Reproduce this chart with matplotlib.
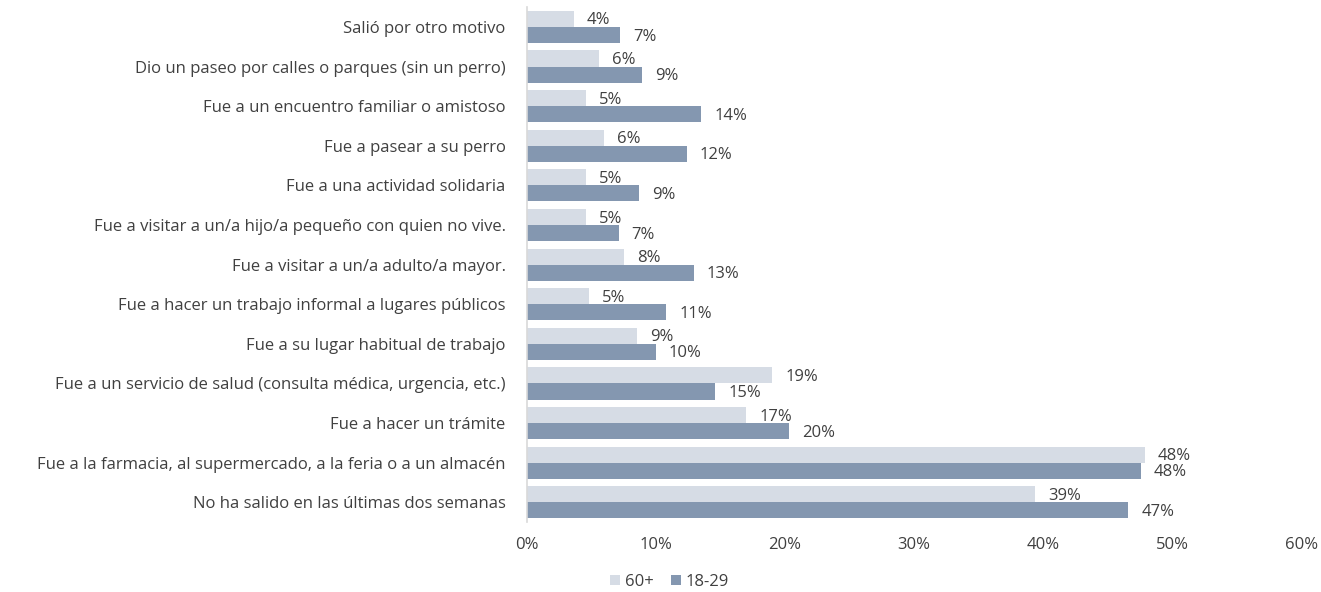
import matplotlib
matplotlib.use("Agg")
import matplotlib.pyplot as plt
import numpy as np

plt.rcParams['font.family'] = ['Open Sans', 'DejaVu Sans']

categories = [
    "Salió por otro motivo",
    "Dio un paseo por calles o parques (sin un perro)",
    "Fue a un encuentro familiar o amistoso",
    "Fue a pasear a su perro",
    "Fue a una actividad solidaria",
    "Fue a visitar a un/a hijo/a pequeño con quien no vive.",
    "Fue a visitar a un/a adulto/a mayor.",
    "Fue a hacer un trabajo informal a lugares públicos",
    "Fue a su lugar habitual de trabajo",
    "Fue a un servicio de salud (consulta médica, urgencia, etc.)",
    "Fue a hacer un trámite",
    "Fue a la farmacia, al supermercado, a la feria o a un almacén",
    "No ha salido en las últimas dos semanas",
]
series_60 = [3.6, 5.6, 4.6, 6.0, 4.6, 4.6, 7.5, 4.8, 8.5, 19.0, 17.0, 47.9, 39.4]
series_1829 = [7.2, 8.9, 13.5, 12.4, 8.7, 7.1, 12.9, 10.8, 10.0, 14.6, 20.3, 47.6, 46.6]
labels_60 = ["4%", "6%", "5%", "6%", "5%", "5%", "8%", "5%", "9%", "19%", "17%", "48%", "39%"]
labels_1829 = ["7%", "9%", "14%", "12%", "9%", "7%", "13%", "11%", "10%", "15%", "20%", "48%", "47%"]
xticks = [0, 10, 20, 30, 40, 50, 60]
xticklabels = ["0%", "10%", "20%", "30%", "40%", "50%", "60%"]

c60 = "#D6DCE5"
c1829 = "#8497B0"
txt = "#404040"
fs = 12

fig = plt.figure(figsize=(13.21, 5.92), dpi=100)
ax = fig.add_axes([0.399, 0.118, 0.586, 0.870])

y = np.arange(len(categories))
h = 0.405
b1 = ax.barh(y - h / 2, series_60, height=h, color=c60, label="60+")
b2 = ax.barh(y + h / 2, series_1829, height=h, color=c1829, label="18-29")

for yi, v, l in zip(y, series_60, labels_60):
    ax.text(v + 1.0, yi - h / 2 + 0.04, l, va="center", ha="left", fontsize=fs, color=txt)
for yi, v, l in zip(y, series_1829, labels_1829):
    ax.text(v + 1.0, yi + h / 2 + 0.04, l, va="center", ha="left", fontsize=fs, color=txt)

ax.set_ylim(len(categories) - 0.5, -0.5)
ax.set_xlim(0, 60)
ax.set_yticks(y)
ax.set_yticklabels(categories, fontsize=fs, color=txt)
ax.set_xticks(xticks)
ax.set_xticklabels(xticklabels, fontsize=fs, color=txt)
ax.tick_params(axis="both", length=0)
ax.tick_params(axis="x", pad=10.5)
ax.tick_params(axis="y", pad=15.5)
for s in ["top", "right", "bottom"]:
    ax.spines[s].set_visible(False)
ax.spines["left"].set_color("#D9D9D9")
ax.spines["left"].set_linewidth(1.2)

fig.legend(handles=[b1, b2], labels=["60+", "18-29"], loc="center", bbox_to_anchor=(0.507, 0.017),
           ncol=2, frameon=False, fontsize=fs, labelcolor=txt, handlelength=0.6, handleheight=0.6,
           handletextpad=0.3, columnspacing=1.0, borderpad=0)

fig.savefig("out.png", dpi=100)
